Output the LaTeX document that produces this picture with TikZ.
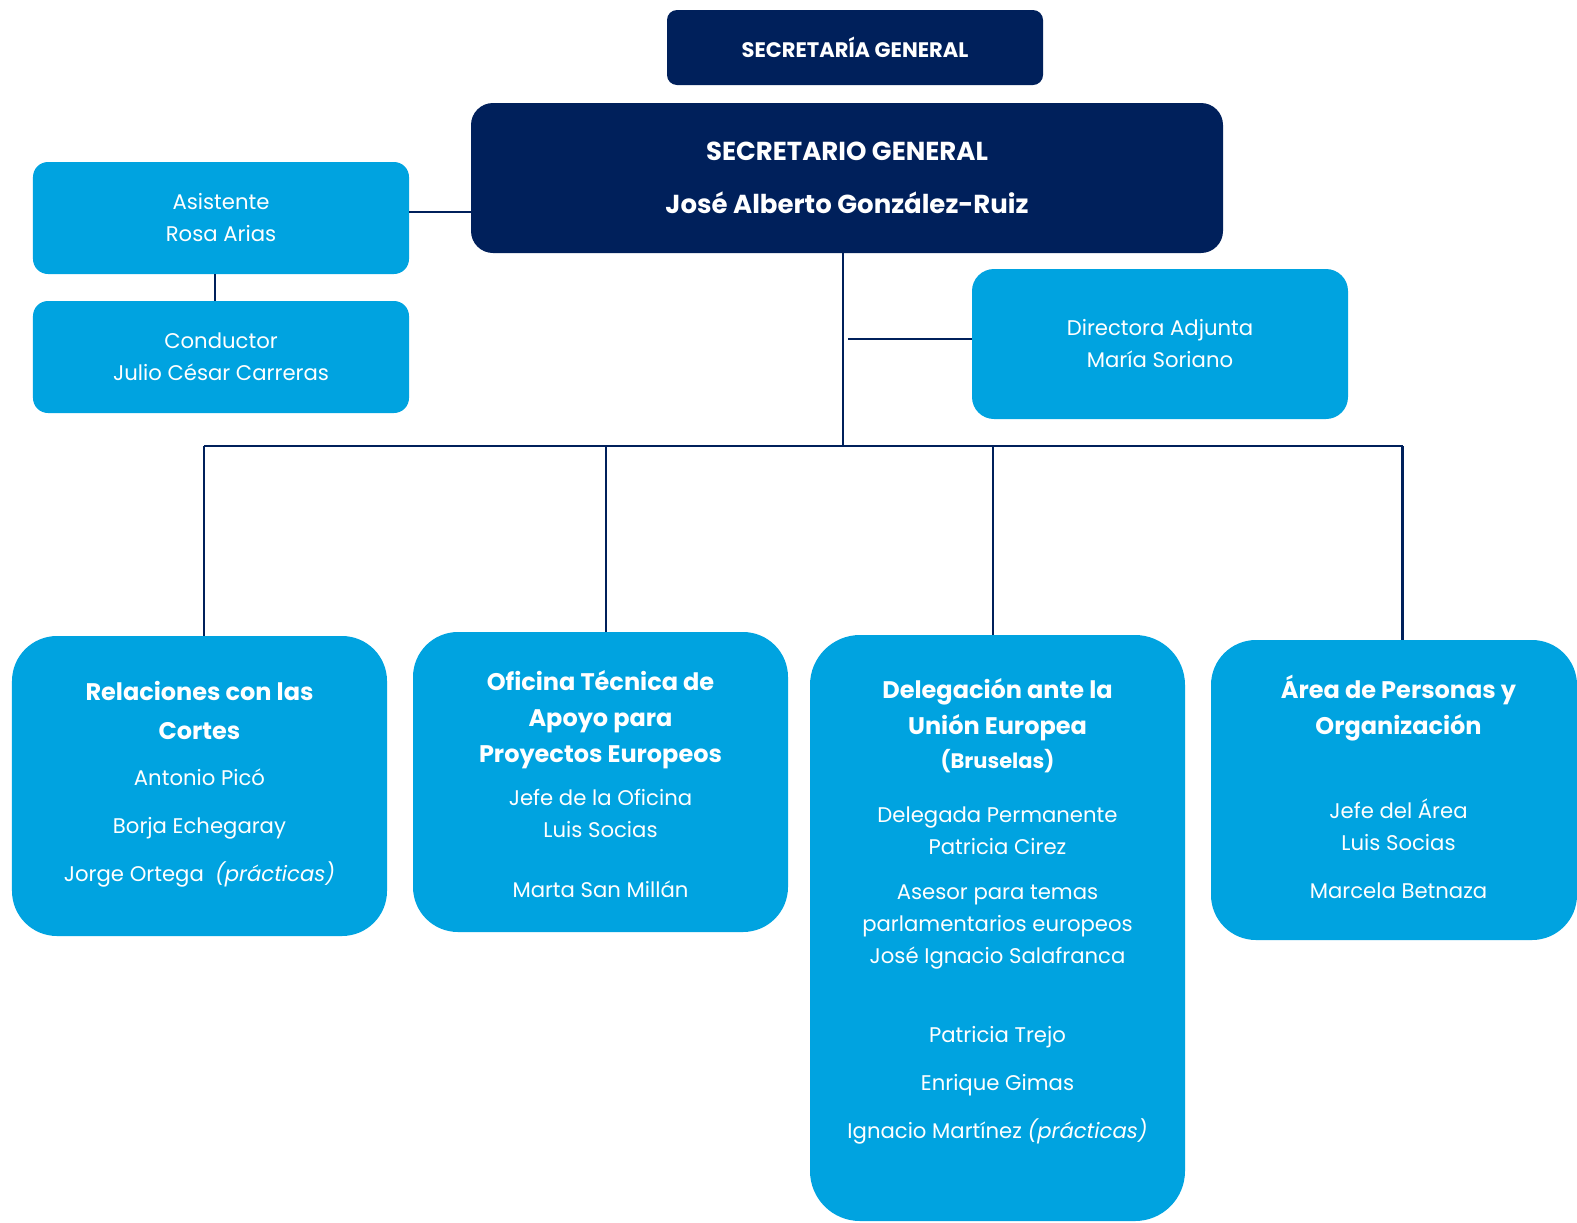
\documentclass[tikz,border=0pt]{standalone}
\usepackage{fontspec}
\setmainfont{Poppins}
\usepackage{tikz}
\usetikzlibrary{positioning}

\definecolor{navy}{HTML}{00205B}
\definecolor{sky}{HTML}{00A3E0}

\newcommand{\bodyfont}{\fontsize{21.2bp}{32bp}\selectfont}
\newcommand{\titlefont}{\bfseries\fontsize{24bp}{36bp}\selectfont}

\begin{document}
\begin{tikzpicture}[x=1bp, y=-1bp,
    navybox/.style = {fill=navy, text=white, align=center, inner sep=0pt},
    bluebox/.style = {fill=sky, text=white, align=center, inner sep=0pt,
        font=\bodyfont},
    unitbox/.style = {bluebox, minimum width=375bp, minimum height=300bp,
        rounded corners=45bp},
    ttl/.style = {text=white, align=center, inner sep=0pt, anchor=north,
        font=\titlefont},
    body/.style = {text=white, align=center, inner sep=0pt, anchor=north,
        font=\bodyfont},
    link/.style = {draw=navy, line width=2.5bp}]
    \useasboundingbox (0,0) rectangle (1577,1222);

    % top of the chart
    \node[navybox, minimum width=376bp, minimum height=75bp, rounded corners=10bp,
        font=\bfseries\fontsize{21bp}{25bp}\selectfont] (sg) at (855,47.5) {SECRETARÍA GENERAL};
    \node[navybox, minimum width=752bp, minimum height=150bp, rounded corners=22bp,
        font=\bfseries\fontsize{26bp}{36bp}\selectfont] (sec) at (847,178)
        {SECRETARIO GENERAL\\[17bp]José Alberto González-Ruiz};

    % left side
    \node[bluebox, minimum width=376bp, minimum height=112bp, rounded corners=15bp]
        (asis) at (221,218) {Asistente\\Rosa Arias};
    \node[bluebox, minimum width=376bp, minimum height=112bp, rounded corners=15bp]
        (cond) at (221,357) {Conductor\\Julio César Carreras};

    % right side
    \node[bluebox, minimum width=376bp, minimum height=150bp, rounded corners=22bp]
        (dir) at (1160,344) {Directora Adjunta\\María Soriano};

    % units
    \node[unitbox] (rel) at (199.5,786) {};
    \node[unitbox] (ofi) at (600.5,782) {};
    \node[unitbox, minimum height=586bp, rounded corners=50bp] (del) at (997.5,928) {};
    \node[unitbox, minimum width=366bp] (area) at (1394,790) {};

    \node[ttl, below=39bp of rel.north] (rel-t) {\strut Relaciones con las\\[3bp]Cortes};
    \node[body, below=127.5bp of rel.north] (rel-b)
        {\strut Antonio Picó\\[16bp]Borja Echegaray\\[16bp]Jorge Ortega \ \textit{(prácticas)}};

    \node[ttl, below=33bp of ofi.north] (ofi-t)
        {\strut Oficina Técnica de\\Apoyo para\\Proyectos Europeos};
    \node[body, below=151.5bp of ofi.north] (ofi-b)
        {\strut Jefe de la Oficina\\Luis Socias\\[28bp]Marta San Millán};

    \node[ttl, below=38bp of del.north] (del-t)
        {\strut Delegación ante la\\Unión Europea\\[-2bp]{\fontsize{21bp}{36bp}\selectfont(Bruselas)}};
    \node[body, below=165.5bp of del.north] (del-b)
        {\strut Delegada Permanente\\Patricia Cirez\\[13bp]Asesor para temas\\
         parlamentarios europeos\\José Ignacio Salafranca\\[47bp]Patricia Trejo\\[16bp]
         Enrique Gimas\\[16bp]Ignacio Martínez \textit{(prácticas)}};

    \node[ttl, below=33bp of area.north, xshift=4.5bp] (area-t)
        {\strut Área de Personas y\\Organización};
    \node[body, below=156.5bp of area.north, xshift=4.5bp] (area-b)
        {\strut Jefe del Área\\Luis Socias\\[16bp]Marcela Betnaza};

    % connectors
    \coordinate (hub) at (843,446);
    \draw[link] ([yshift=6bp]asis.east) -- ([yshift=6bp]asis.east -| sec.west);
    \draw[link] ([xshift=-6bp]asis.south) -- ([xshift=-6bp]cond.north);
    \draw[link] (sec.south -| hub) -- (hub);
    \draw[link] ([yshift=5bp]dir.west) -- ([yshift=5bp, xshift=5bp]dir.west -| hub);
    \draw[link] ([xshift=4.5bp]rel.north |- hub) -- ([xshift=8.5bp]area.north |- hub);
    \foreach \u/\dx in {rel/4.5, ofi/5.5, del/-4.5, area/8.5}
        \draw[link] ([xshift=\dx bp]\u.north) -- ([xshift=\dx bp]\u.north |- hub);
\end{tikzpicture}
\end{document}
